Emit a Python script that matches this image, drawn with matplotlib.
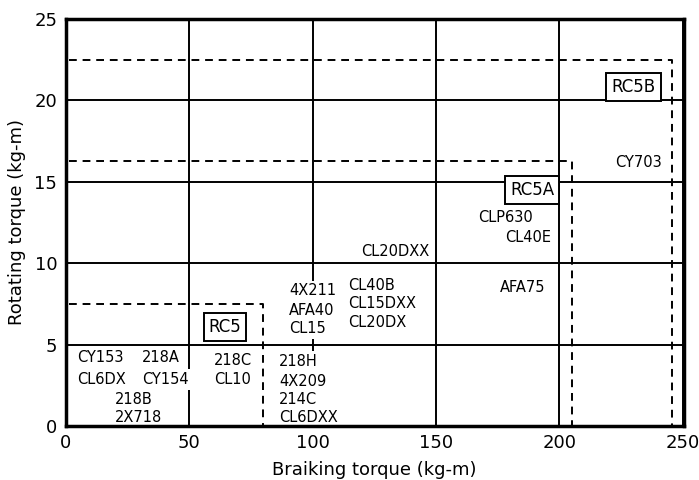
import matplotlib.pyplot as plt

# model labels placed in the chart (left edge x, centre y)
models = ['CY153', 'CL6DX', '218A', 'CY154', '218B', '2X718',
          '218C', 'CL10',
          '218H', '4X209', '214C', 'CL6DXX',
          '4X211', 'AFA40', 'CL15',
          'CL40B', 'CL15DXX', 'CL20DX', 'CL20DXX',
          'AFA75', 'CLP630', 'CL40E', 'CY703']
model_x = [4.8, 4.8, 31, 31, 19.8, 19.8,
           60, 60,
           86.5, 86.5, 86.5, 86.5,
           90.5, 90.5, 90.5,
           114.5, 114.5, 114.5, 119.5,
           176, 167, 178, 222.5]
model_y = [4.2, 2.85, 4.2, 2.85, 1.65, 0.55,
           4.0, 2.85,
           3.95, 2.75, 1.65, 0.5,
           8.3, 7.1, 6.0,
           8.65, 7.5, 6.35, 10.7,
           8.5, 12.8, 11.6, 16.2]

# range boxes: name, braking limit, rotating limit, label position
ranges = ['RC5', 'RC5A', 'RC5B']
range_brake = [80, 205, 245.5]
range_rot = [7.5, 16.25, 22.5]
range_lx = [64.5, 189, 230]
range_ly = [6.1, 14.5, 20.8]

fig = plt.figure(figsize=(6.99, 4.8), dpi=100)
ax = fig.add_axes([0.094, 0.1125, 0.884, 0.848])

ax.set_xlim(0, 250.3)
ax.set_ylim(0, 25)
ax.set_xticks([0, 50, 100, 150, 200, 250])
ax.set_yticks([0, 5, 10, 15, 20, 25])
ax.tick_params(length=0, labelsize=13, pad=6)
for s in ax.spines.values():
    s.set_linewidth(2.5)
    s.set_zorder(5)
ax.grid(True, color='black', linewidth=1.4)
ax.set_axisbelow(True)

for name, bx, by, lx, ly in zip(ranges, range_brake, range_rot, range_lx, range_ly):
    ax.plot([1.5, bx, bx], [by, by, 0], color='black', linewidth=1.4,
            linestyle=(0, (4, 3)), zorder=3)
    ax.text(lx, ly, name, fontsize=12, ha='center', va='center', zorder=4,
            bbox=dict(facecolor='white', edgecolor='black', linewidth=1.4,
                      boxstyle='square,pad=0.3'))

for m, x, y in zip(models, model_x, model_y):
    ax.text(x, y, m, fontsize=10.5, ha='left', va='center', zorder=4,
            bbox=dict(facecolor='white', edgecolor='none', pad=2.0))

ax.set_xlabel('Braiking torque (kg-m)', fontsize=13, labelpad=6)
ax.set_ylabel('Rotating torque (kg-m)', fontsize=13, labelpad=6)

fig.savefig('out.png', dpi=100)
